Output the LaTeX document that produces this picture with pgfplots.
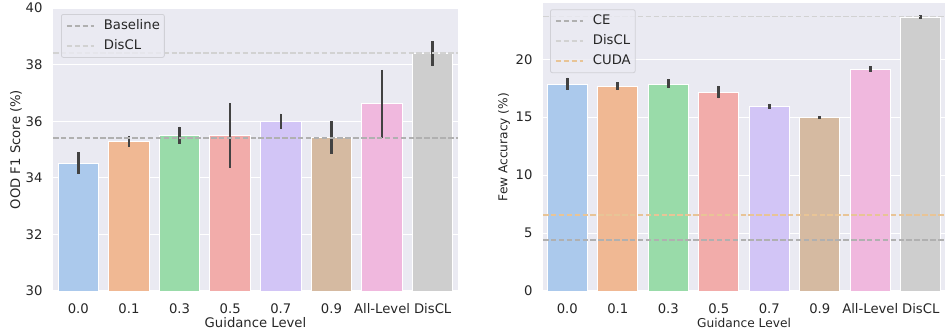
\documentclass[border=0pt]{standalone}
\usepackage{pgfplots}
\pgfplotsset{compat=1.18}
\usepackage{fontspec}
\setmainfont{DejaVu Sans}
\definecolor{bgc}{HTML}{EAEAF2}
\definecolor{txt}{HTML}{262626}
\definecolor{errc}{HTML}{424242}
\definecolor{c0}{HTML}{ABC9EC}
\definecolor{c1}{HTML}{F0B893}
\definecolor{c2}{HTML}{99DBA9}
\definecolor{c3}{HTML}{F2ACAA}
\definecolor{c4}{HTML}{D2C5F6}
\definecolor{c5}{HTML}{D5BAA1}
\definecolor{c6}{HTML}{F0B8DE}
\definecolor{c7}{HTML}{CECECE}
\definecolor{lbase}{HTML}{B0B0B0}
\definecolor{ldiscl}{HTML}{D2D2D2}
\definecolor{lcuda}{HTML}{E8C496}
\definecolor{legdraw}{HTML}{D0D0D6}
\pgfplotsset{
  myaxis/.style={
    scale only axis,
    axis background/.style={fill=bgc},
    axis line style={draw=none},
    major tick length=0pt,
    ymajorgrids,
    grid style={white, line width=1.1pt},
    xtick={0,...,7},
    xticklabels={0.0,0.1,0.3,0.5,0.7,0.9,All-Level,DisCL},
    /pgf/number format/assume math mode=true,
    tick label style={font=\fontsize{13.2}{15}\selectfont, text=txt},
    xticklabel style={yshift=-9pt},
    yticklabel style={xshift=-7pt},
    legend cell align=left,
    legend style={at={(0,1)}, anchor=north west,
      fill=bgc, fill opacity=0.8, text opacity=1,
      draw=legdraw, line width=0.8pt, rounded corners=2pt,
      font=\fontsize{13.2}{15}\selectfont, text=txt,
      inner sep=1.5pt, row sep=0pt,
      nodes={inner sep=3pt, text height=10.5pt, text depth=3.5pt}},
    legend image code/.code={\draw[#1] (4pt,0pt) -- (31pt,0pt); \path[draw=none] (0pt,0pt) -- (38pt,0pt);},
    clip=true,
  },
  mybar/.style={ybar, bar width=0.8, bar shift=0pt, fill=#1, draw=white, line width=1pt, forget plot,
    error bars/.cd, y dir=both, y explicit, error mark=none,
    error bar style={line width=2.6pt, color=errc, solid}},
  myline/.style={color=#1, line width=1.5pt, dash pattern=on 5.5pt off 2.4pt},
}
\begin{document}
\begin{tikzpicture}
\useasboundingbox (0,0) rectangle (945pt,333pt);
% Left panel
\begin{axis}[myaxis,
  at={(53pt,42pt)}, anchor=south west,
  width=405pt, height=283pt,
  xmin=-0.5, xmax=7.5, ymin=30, ymax=40,
  ytick={30,32,34,36,38,40},
  xlabel={Guidance Level}, ylabel={OOD F1 Score (\%)},
  label style={font=\fontsize{13.2}{15}\selectfont, text=txt},
  xlabel style={at={(axis description cs:0.5,0)}, anchor=center, yshift=-32pt},
  ylabel style={at={(axis description cs:0,0.5)}, anchor=center, yshift=37pt},
  legend style={xshift=8pt, yshift=-6pt},
]
\addplot[mybar=c0] coordinates {(0,34.50) += (0,0.41) -= (0,0.37)};
\addplot[mybar=c1] coordinates {(1,35.27) += (0,0.20) -= (0,0.18)};
\addplot[mybar=c2] coordinates {(2,35.51) += (0,0.30) -= (0,0.30)};
\addplot[mybar=c3] coordinates {(3,35.48) += (0,1.15) -= (0,1.13)};
\addplot[mybar=c4] coordinates {(4,35.99) += (0,0.28) -= (0,0.25)};
\addplot[mybar=c5] coordinates {(5,35.41) += (0,0.58) -= (0,0.56)};
\addplot[mybar=c6] coordinates {(6,36.64) += (0,1.17) -= (0,1.22)};
\addplot[mybar=c7] coordinates {(7,38.40) += (0,0.42) -= (0,0.45)};
\addplot[myline=lbase] coordinates {(-0.5,35.41) (7.5,35.41)};
\addlegendentry{Baseline}
\addplot[myline=ldiscl] coordinates {(-0.5,38.41) (7.5,38.41)};
\addlegendentry{DisCL}
\end{axis}
% Right panel
\begin{axis}[myaxis,
  at={(543pt,42pt)}, anchor=south west,
  width=402pt, height=287.7pt,
  xmin=-0.48, xmax=7.48, ymin=0, ymax=24.83,
  ytick={0,5,10,15,20},
  xlabel={Guidance Level}, ylabel={Few Accuracy (\%)},
  label style={font=\fontsize{12.2}{14}\selectfont, text=txt},
  xlabel style={at={(axis description cs:0.5,0)}, anchor=center, yshift=-32pt},
  ylabel style={at={(axis description cs:0,0.5)}, anchor=center, yshift=39pt},
  legend style={xshift=7pt, yshift=-6pt},
]
\addplot[mybar=c0] coordinates {(0,17.84) += (0,0.58) -= (0,0.49)};
\addplot[mybar=c1] coordinates {(1,17.64) += (0,0.37) -= (0,0.26)};
\addplot[mybar=c2] coordinates {(2,17.84) += (0,0.43) -= (0,0.34)};
\addplot[mybar=c3] coordinates {(3,17.12) += (0,0.58) -= (0,0.49)};
\addplot[mybar=c4] coordinates {(4,15.91) += (0,0.23) -= (0,0.17)};
\addplot[mybar=c5] coordinates {(5,14.96) += (0,0.12) -= (0,0.05)};
\addplot[mybar=c6] coordinates {(6,19.11) += (0,0.29) -= (0,0.17)};
\addplot[mybar=c7] coordinates {(7,23.63) += (0,0.17) -= (0,0.12)};
\addplot[myline=lbase] coordinates {(-0.48,4.40) (7.48,4.40)};
\addlegendentry{CE}
\addplot[myline=ldiscl] coordinates {(-0.48,23.68) (7.48,23.68)};
\addlegendentry{DisCL}
\addplot[myline=lcuda] coordinates {(-0.48,6.56) (7.48,6.56)};
\addlegendentry{CUDA}
\end{axis}
\end{tikzpicture}
\end{document}
